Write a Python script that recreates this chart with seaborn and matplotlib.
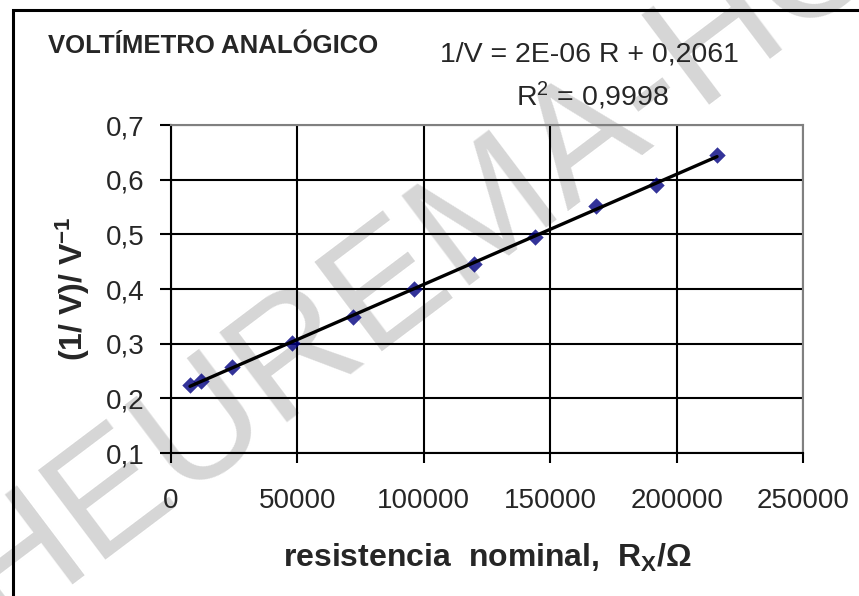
import numpy as np
import matplotlib.pyplot as plt
import matplotlib.patches as mpatches
import seaborn as sns

# data
resistance = [7500, 12000, 24000, 48000, 72000, 96000, 120000, 144000, 168000, 192000, 216000]
inv_voltage = [0.225, 0.232, 0.258, 0.301, 0.348, 0.400, 0.446, 0.495, 0.551, 0.590, 0.646]

x_ticks = [0, 50000, 100000, 150000, 200000, 250000]
x_tick_labels = ["0", "50000", "100000", "150000", "200000", "250000"]
y_ticks = [0.1, 0.2, 0.3, 0.4, 0.5, 0.6, 0.7]
y_tick_labels = ["0,1", "0,2", "0,3", "0,4", "0,5", "0,6", "0,7"]

title = "VOLTÍMETRO ANALÓGICO"
equation = "1/V = 2E-06 R + 0,2061"
r_squared = "R$^2$ = 0,9998"
watermark = "HEUREMA-HOY"

sns.set_style("white")
plt.rcParams["font.family"] = ["Liberation Sans", "DejaVu Sans"]
plt.rcParams["mathtext.fontset"] = "custom"
plt.rcParams["mathtext.rm"] = "Liberation Sans"
plt.rcParams["mathtext.it"] = "Liberation Sans:italic"
plt.rcParams["mathtext.bf"] = "Liberation Sans:bold"
plt.rcParams["mathtext.default"] = "regular"

fig = plt.figure(figsize=(8.59, 5.96), dpi=100)
fig.patch.set_facecolor("white")

# faint watermark behind everything (cut by the edges, as in the original)
fig.text(-0.002, -0.057, watermark, rotation=37, rotation_mode="anchor",
         ha="left", va="baseline", fontsize=118, color="#d6d6d6", zorder=-1)

# outer chart frame (runs off the right and bottom edge)
fig.patches.append(mpatches.Rectangle((13 / 859, -0.05), 1.0, 1.033,
                                      transform=fig.transFigure, fill=False,
                                      edgecolor="black", lw=2.2))

ax = fig.add_axes([0.1991, 0.2399, 0.7357, 0.5503])
ax.patch.set_alpha(0)

sns.regplot(x=resistance, y=inv_voltage, ax=ax, ci=None, marker="D",
            scatter_kws={"color": "#000080", "s": 70, "linewidths": 0, "zorder": 3},
            line_kws={"color": "black", "lw": 2.4, "zorder": 4})

ax.set_xlim(0, 250000)
ax.set_ylim(0.1, 0.7)
ax.set_xticks(x_ticks)
ax.set_xticklabels(x_tick_labels)
ax.set_yticks(y_ticks)
ax.set_yticklabels(y_tick_labels)

ax.grid(True, color="black", lw=1.5)
for side in ["left", "bottom"]:
    ax.spines[side].set_color("black")
    ax.spines[side].set_linewidth(1.5)
for side in ["top", "right"]:
    ax.spines[side].set_color("#808080")
    ax.spines[side].set_linewidth(1.5)

ax.tick_params(axis="y", direction="out", length=8, width=1.5, pad=11,
               labelsize=20, left=True, color="black")
ax.tick_params(axis="x", direction="out", length=7.5, width=1.5, pad=18,
               labelsize=20, bottom=True, color="black")

ax.set_xlabel("resistencia  nominal,  R$_{\\mathbf{X}}$/Ω",
              fontsize=23, fontweight="bold", va="baseline")
ax.xaxis.set_label_coords(0.5, -0.348)
ax.set_ylabel("(1/ V)/ V$^{\\mathbf{-1}}$", fontsize=23, fontweight="bold",
              va="center")
ax.yaxis.set_label_coords(-0.156, 0.5)

fig.text(48 / 859, 0.911, title, fontsize=18.5, fontweight="bold",
         ha="left", va="baseline")
fig.text(0.6857, 0.896, equation, fontsize=20.5, ha="center", va="baseline")
fig.text(0.690, 0.822, r_squared, fontsize=20.5, ha="center", va="baseline")

fig.savefig("out.png", dpi=100)
